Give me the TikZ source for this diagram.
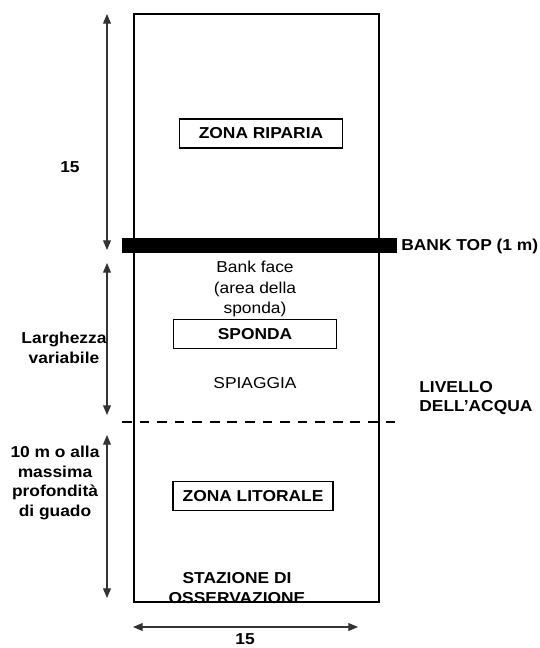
\documentclass[tikz,border=0pt]{standalone}
\usepackage{fontspec}
\setmainfont{Liberation Sans}[FakeStretch=1.1]
\usetikzlibrary{positioning, arrows.meta}
\tikzset{
  zonebox/.style={
    draw, rectangle, line width=0.8pt,
    minimum width=3.25cm, minimum height=0.58cm,
    font=\fontsize{9}{10}\selectfont\bfseries, inner sep=0pt, align=center
  },
  lbl/.style={font=\fontsize{9}{11.3}\selectfont\bfseries, align=center, inner sep=0pt},
  plain/.style={font=\fontsize{9}{11.9}\selectfont, align=center, inner sep=0pt},
  dimarr/.style={{Triangle[length=5.5pt,width=4.5pt]}-{Triangle[length=5.5pt,width=4.5pt]}, line width=0.6pt, black!80},
}
\begin{document}
\begin{tikzpicture}[x=0.02cm, y=-0.02cm]
  \useasboundingbox (0,0) rectangle (539,648);
  % plot outline
  \coordinate (NW) at (134,14);
  \coordinate (SE) at (379,602);
  \draw[line width=0.6pt] (NW) rectangle (SE);
  % bank top and water level
  \coordinate (bankL) at (122,238);
  \coordinate (bankR) at (397,253);
  \fill (bankL) rectangle (bankR);
  \coordinate (waterL) at (122,422);
  \coordinate (waterR) at (395,422);
  \draw[line width=1.6pt, dash pattern=on 5.5pt off 4.5pt] (waterL) -- (waterR);
  % zones
  \node[zonebox] (riparia)  at (261,133.5) {ZONA RIPARIA};
  \node[zonebox] (sponda)   at (255,334)   {SPONDA};
  \node[zonebox, minimum width=3.2cm] (litorale) at (253,496) {ZONA LITORALE};
  \node[plain] (face)     at (255,289) {Bank face\\(area della\\sponda)};
  \node[plain] (spiaggia) at (255,383) {SPIAGGIA};
  \node[lbl]   (stazione) at (237,588) {STAZIONE DI\\OSSERVAZIONE};
  \node[lbl, anchor=west] (banktop) at (401,246) {BANK TOP (1 m)};
  \node[lbl, anchor=west, align=left] (livello) at (419,398) {LIVELLO\\DELL'ACQUA};
  % dimensions
  \coordinate (a1) at (107,14);  \coordinate (a2) at (107,250);
  \coordinate (b1) at (107,263); \coordinate (b2) at (107,415);
  \coordinate (c1) at (107,435); \coordinate (c2) at (107,598);
  \coordinate (d1) at (133,627); \coordinate (d2) at (358,627);
  \draw[dimarr] (a1) -- (a2);
  \draw[dimarr] (b1) -- (b2);
  \draw[dimarr] (c1) -- (c2);
  \draw[dimarr] (d1) -- (d2);
  \node[lbl] (riph)  at (70,167) {15};
  \node[lbl] (sponh) at (64,348) {Larghezza\\variabile};
  \node[lbl] (lith)  at (55,483) {10 m o alla\\massima\\profondità\\di guado};
  \node[lbl] (width) at (245,639) {15};
\end{tikzpicture}
\end{document}
